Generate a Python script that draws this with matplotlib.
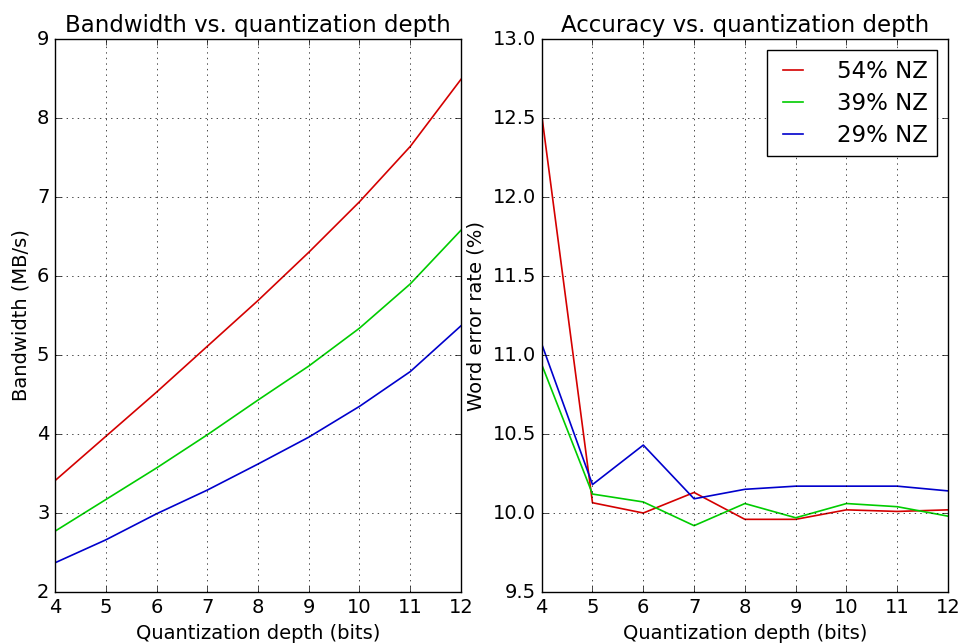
import numpy as np
import matplotlib
matplotlib.use("Agg")
import matplotlib.pyplot as plt

bits = [4, 5, 6, 7, 8, 9, 10, 11, 12]
labels = ["54% NZ", "39% NZ", "29% NZ"]
colors = ["#d40000", "#00cc00", "#0000cc"]

# bandwidth (MB/s) per sparsity level
bw_54 = [3.41, 3.97, 4.53, 5.11, 5.69, 6.30, 6.94, 7.64, 8.49]
bw_39 = [2.77, 3.17, 3.57, 3.99, 4.43, 4.86, 5.34, 5.90, 6.58]
bw_29 = [2.37, 2.66, 2.99, 3.29, 3.62, 3.96, 4.35, 4.79, 5.37]

# word error rate (%) per sparsity level
wer_54 = [12.52, 10.065, 10.00, 10.13, 9.96, 9.96, 10.02, 10.01, 10.02]
wer_39 = [10.94, 10.12, 10.07, 9.92, 10.06, 9.97, 10.06, 10.04, 9.98]
wer_29 = [11.07, 10.18, 10.43, 10.09, 10.15, 10.17, 10.17, 10.17, 10.14]

plt.style.use("classic")
plt.rcParams["savefig.facecolor"] = "white"
plt.rcParams["figure.facecolor"] = "white"

fig = plt.figure(figsize=(9.62, 6.43), dpi=100)
ax1 = fig.add_axes([0.0572, 0.0793, 0.422, 0.860])
ax2 = fig.add_axes([0.5631, 0.0793, 0.4224, 0.860])

for vals, c, lab in zip([bw_54, bw_39, bw_29], colors, labels):
    ax1.plot(bits, vals, color=c, linewidth=1.2, label=lab)
ax1.set_xlim(4, 12)
ax1.set_ylim(2, 9)
ax1.set_xticks(bits)
ax1.set_yticks(range(2, 10))
ax1.set_title("Bandwidth vs. quantization depth", fontsize=16.5)
ax1.set_xlabel("Quantization depth (bits)", fontsize=14)
ax1.set_ylabel("Bandwidth (MB/s)", fontsize=14)
ax1.grid(True)

for vals, c, lab in zip([wer_54, wer_39, wer_29], colors, labels):
    ax2.plot(bits, vals, color=c, linewidth=1.2, label=lab)
ax2.set_xlim(4, 12)
ax2.set_ylim(9.5, 13.0)
ax2.set_xticks(bits)
ax2.set_yticks(np.arange(9.5, 13.01, 0.5))
ax2.set_title("Accuracy vs. quantization depth", fontsize=16.5)
ax2.set_xlabel("Quantization depth (bits)", fontsize=14)
ax2.set_ylabel("Word error rate (%)", fontsize=14)
ax2.grid(True)
ax2.legend(loc="upper right", fontsize=16.5, handlelength=1.5, handletextpad=1.15,
           labelspacing=0.4, borderpad=0.4, borderaxespad=0.5)

for ax in (ax1, ax2):
    ax.tick_params(labelsize=14)

fig.savefig("out.png", dpi=100)
